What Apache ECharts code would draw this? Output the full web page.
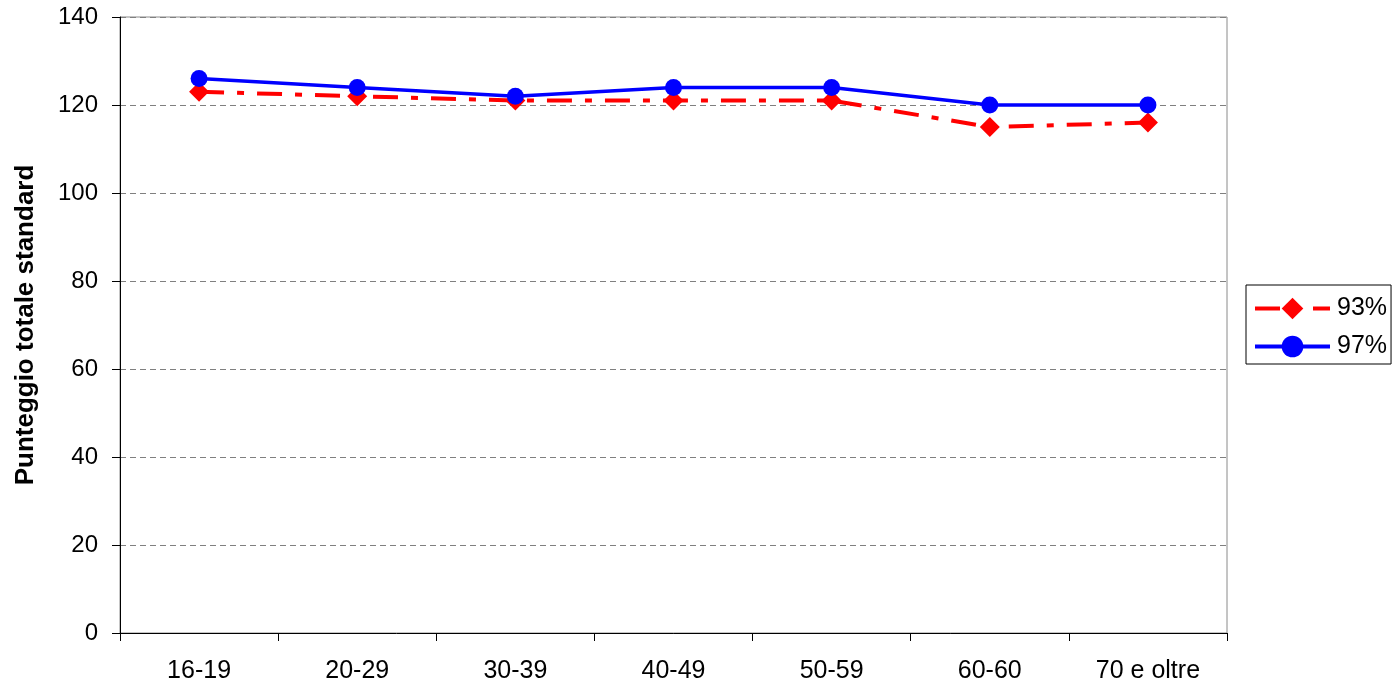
<!DOCTYPE html>
<html>
<head>
<meta charset="utf-8">
<script src="https://cdn.jsdelivr.net/npm/echarts@6/dist/echarts.min.js"></script>
<style>html,body{margin:0;padding:0;background:#fff;}#chart{width:1395px;height:688px;}</style>
</head>
<body>
<div id="chart"></div>
<script>
const categories = ['16-19', '20-29', '30-39', '40-49', '50-59', '60-60', '70 e oltre'];
const series93 = [123, 122, 121, 121, 121, 115, 116];
const series97 = [126, 124, 122, 124, 124, 120, 120];
const seriesNames = ['93%', '97%'];
const yAxisTitle = 'Punteggio totale standard';

const chart = echarts.init(document.getElementById('chart'), null, {renderer: 'canvas'});
const font = 'Arial, "Liberation Sans", sans-serif';
chart.setOption({
  animation: false,
  backgroundColor: '#ffffff',
  grid: {left: 120, right: 168, top: 17, bottom: 55, show: true, borderColor: '#8a8a8a', borderWidth: 1},
  legend: {
    orient: 'vertical', left: 1246, top: 285,
    padding: [11, 4, 5, 7], itemGap: 13,
    borderColor: '#000', borderWidth: 1, borderRadius: 0,
    itemWidth: 75, itemHeight: 27,
    lineStyle: {width: 4},
    textStyle: {fontFamily: font, fontSize: 25, color: '#000', padding: [0, 0, 0, 2]},
    data: seriesNames
  },
  xAxis: {
    type: 'category', data: categories, boundaryGap: true,
    axisLine: {lineStyle: {color: '#000', width: 1}},
    axisTick: {show: true, length: 8, inside: false, alignWithLabel: false, lineStyle: {color: '#000'}},
    axisLabel: {fontFamily: font, fontSize: 25, color: '#000', margin: 26},
    splitLine: {show: false}
  },
  yAxis: {
    type: 'value', min: 0, max: 140, interval: 20,
    name: yAxisTitle, nameLocation: 'middle', nameGap: 81,
    nameTextStyle: {fontFamily: font, fontSize: 26, fontWeight: 'bold', color: '#000'},
    axisLine: {show: true, lineStyle: {color: '#000', width: 1}},
    axisTick: {show: true, length: 8, lineStyle: {color: '#000'}},
    axisLabel: {fontFamily: font, fontSize: 24, color: '#000', margin: 22},
    splitLine: {show: true, lineStyle: {color: '#808080', type: [6, 4], width: 1}}
  },
  series: [
    {
      name: seriesNames[0], type: 'line', data: series93,
      symbol: 'diamond', symbolSize: [20, 20],
      itemStyle: {color: '#ff0000'},
      lineStyle: {color: '#ff0000', width: 4, type: [25, 13, 7, 13]},
      z: 2
    },
    {
      name: seriesNames[1], type: 'line', data: series97,
      symbol: 'circle', symbolSize: 17,
      itemStyle: {color: '#0000ff'},
      lineStyle: {color: '#0000ff', width: 3.5},
      z: 3
    }
  ]
});
</script>
</body>
</html>
